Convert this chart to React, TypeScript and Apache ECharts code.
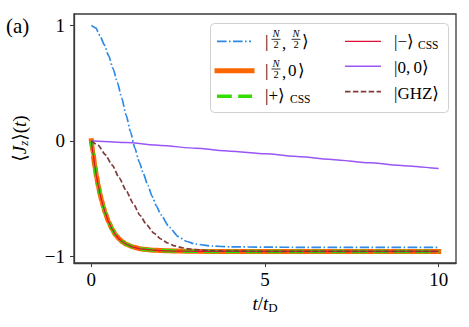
import React, { useEffect, useRef } from "react";
import * as echarts from "echarts";

// ---- data ----
const tDickeTop = [0, 0.125, 0.25, 0.375, 0.5, 0.625, 0.75, 0.875, 1.0, 1.125, 1.25, 1.375, 1.5, 1.625, 1.75, 1.875, 2.0, 2.25, 2.5, 2.75, 3.0, 3.5, 4, 5, 6, 8, 10];
const jzDickeTop = [1.0, 0.978, 0.91, 0.83, 0.735, 0.625, 0.505, 0.37, 0.225, 0.08, -0.06, -0.18, -0.285, -0.385, -0.48, -0.565, -0.64, -0.75, -0.83, -0.872, -0.895, -0.912, -0.918, -0.921, -0.922, -0.923, -0.923];

const tCss = [0, 0.05, 0.1, 0.15, 0.2, 0.25, 0.3, 0.35, 0.4, 0.5, 0.6, 0.7, 0.8, 0.9, 1.0, 1.2, 1.4, 1.6, 1.8, 2.0, 2.5, 3, 4, 6, 8, 10];
const jzDickeHalf = [0, -0.115, -0.22, -0.31, -0.39, -0.46, -0.52, -0.575, -0.625, -0.705, -0.765, -0.815, -0.85, -0.875, -0.895, -0.92, -0.935, -0.942, -0.947, -0.95, -0.955, -0.957, -0.958, -0.958, -0.958, -0.958];
const jzPlusCss = [0, -0.115, -0.22, -0.31, -0.39, -0.46, -0.52, -0.575, -0.625, -0.705, -0.765, -0.815, -0.85, -0.875, -0.895, -0.92, -0.935, -0.942, -0.947, -0.95, -0.955, -0.957, -0.958, -0.958, -0.958, -0.958];
const jzMinusCss = [0, -0.115, -0.22, -0.31, -0.39, -0.46, -0.52, -0.575, -0.625, -0.705, -0.765, -0.815, -0.85, -0.875, -0.895, -0.92, -0.935, -0.942, -0.947, -0.95, -0.955, -0.957, -0.958, -0.958, -0.958, -0.958];

const tSinglet = [0, 1, 2, 3, 4, 5, 6, 7, 8, 9, 10];
const jzSinglet = [0, -0.015, -0.04, -0.065, -0.09, -0.113, -0.138, -0.163, -0.19, -0.215, -0.24];

const tGhz = [0, 0.2, 0.4, 0.6, 0.8, 1.0, 1.2, 1.4, 1.6, 1.8, 2.0, 2.2, 2.4, 2.6, 2.8, 3.0, 3.5, 4, 5, 6, 8, 10];
const jzGhz = [0, -0.04, -0.12, -0.21, -0.32, -0.43, -0.54, -0.645, -0.73, -0.8, -0.85, -0.885, -0.91, -0.925, -0.936, -0.943, -0.952, -0.955, -0.957, -0.958, -0.958, -0.958];

const xTicks = [0, 5, 10];
const yTicks = [-1, 0, 1];

const FONT = "Liberation Serif, DejaVu Serif, serif";
const C_BLUE = "#2e8ae6";
const C_ORANGE = "#ff6600";
const C_GREEN = "#33dd00";
const C_CRIMSON = "#dd1133";
const C_PURPLE = "#9955f5";
const C_BROWN = "#7f3b3b";
const AX = "#3a3a3a";

const zip = (t: number[], v: number[]) => t.map((x, i) => [x, v[i]]);

function txt(text: string, x: number, y: number, size: number, extra: any = {}) {
  return {
    type: "text",
    z: 100,
    style: {
      text,
      x,
      y,
      fill: "#000",
      fontSize: size,
      fontFamily: FONT,
      fontStyle: extra.italic ? "italic" : "normal",
      align: extra.align || "left",
      verticalAlign: "middle",
      textAlign: extra.align || "left",
      textVerticalAlign: "middle",
    },
  };
}

function frac(xc: number, yBar: number) {
  return [
    txt("N", xc, yBar - 5.5, 10.5, { italic: true, align: "center" }),
    {
      type: "line",
      z: 100,
      shape: { x1: xc - 4.5, y1: yBar, x2: xc + 4.5, y2: yBar },
      style: { stroke: "#000", lineWidth: 0.8 },
    },
    txt("2", xc, yBar + 5.5, 10.5, { align: "center" }),
  ];
}

function sample(x1: number, x2: number, y: number, color: string, width: number, dash: number[] | null, cap = "butt") {
  return {
    type: "line",
    z: 100,
    shape: { x1, y1: y, x2, y2: y },
    style: { stroke: color, lineWidth: width, lineDash: dash || undefined, lineCap: cap },
  };
}

export default function App() {
  const ref = useRef<HTMLDivElement>(null);
  useEffect(() => {
    if (!ref.current) return;
    const chart = echarts.init(ref.current, null, { renderer: "svg" });
    const mk = (name: string, data: number[][], color: string, width: number, type: any, cap = "butt") => ({
      name,
      type: "line",
      data,
      showSymbol: false,
      symbol: "none",
      smooth: 0.2,
      smoothMonotone: "x",
      lineStyle: { color, width, type, cap },
      itemStyle: { color },
      silent: true,
    });
    const legendX1 = 217,
      legendX2 = 251;
    const legendX3 = 345,
      legendX4 = 381;
    chart.setOption({
      animation: false,
      backgroundColor: "#fff",
      grid: {
        left: 74,
        top: 14,
        right: 13,
        bottom: 64,
        show: true,
        borderColor: AX,
        borderWidth: 1.3,
        backgroundColor: "transparent",
      },
      xAxis: {
        type: "value",
        min: -0.5,
        max: 10.5,
        splitLine: { show: false },
        axisLine: { show: true, onZero: false, lineStyle: { color: AX, width: 1.3 } },
        axisTick: { show: true, length: 4, inside: false, customValues: xTicks, lineStyle: { color: AX, width: 1 } },
        axisLabel: {
          customValues: xTicks,
          margin: 7,
          fontSize: 19,
          fontFamily: FONT,
          color: "#000",
          formatter: (v: number) => String(v).replace("-", "\u2212"),
        },
        name: "{i|t}{m|/}{i|t}{s|D}",
        nameLocation: "middle",
        nameGap: 29,
        nameTextStyle: {
          rich: {
            m: { fontSize: 19, fontFamily: FONT, color: "#000", lineHeight: 22 },
            i: { fontSize: 19, fontFamily: FONT, fontStyle: "italic", color: "#000", lineHeight: 22 },
            s: { fontSize: 13, fontFamily: FONT, color: "#000", lineHeight: 13, verticalAlign: "bottom" },
          },
        },
      },
      yAxis: {
        type: "value",
        min: -1.058,
        max: 1.098,
        splitLine: { show: false },
        axisLine: { show: true, onZero: false, lineStyle: { color: AX, width: 1.3 } },
        axisTick: { show: true, length: 4, inside: false, customValues: yTicks, lineStyle: { color: AX, width: 1 } },
        axisLabel: {
          customValues: yTicks,
          margin: 9,
          fontSize: 19,
          fontFamily: FONT,
          color: "#000",
          formatter: (v: number) => String(v).replace("-", "\u2212"),
        },
        name: "{m|\u27e8}{i|J}{s|z}{m|\u27e9(}{i|t}{m|)}",
        nameLocation: "middle",
        nameRotate: 90,
        nameGap: 44,
        nameTextStyle: {
          rich: {
            m: { fontSize: 19, fontFamily: FONT, color: "#000", lineHeight: 22 },
            i: { fontSize: 19, fontFamily: FONT, fontStyle: "italic", color: "#000", lineHeight: 22 },
            s: { fontSize: 13, fontFamily: FONT, fontStyle: "italic", color: "#000", lineHeight: 13, verticalAlign: "bottom" },
          },
        },
      },
      series: [
        mk("|N/2,N/2⟩", zip(tDickeTop, jzDickeTop), C_BLUE, 1.7, [9.6, 2.4, 1.6, 2.4]),
        mk("|N/2,0⟩", zip(tCss, jzDickeHalf), C_ORANGE, 5, "solid", "square"),
        mk("|+⟩CSS", zip(tCss, jzPlusCss), C_GREEN, 3.5, [14.8, 6.4]),
        mk("|−⟩CSS", zip(tCss, jzMinusCss), C_CRIMSON, 1.3, "solid"),
        mk("|0,0⟩", zip(tSinglet, jzSinglet), C_PURPLE, 1.5, "solid"),
        mk("|GHZ⟩", zip(tGhz, jzGhz), C_BROWN, 1.7, [5.5, 2.4]),
      ],
      graphic: [
        txt("(a)", 6, 26, 21),
        {
          type: "rect",
          z: 90,
          shape: { x: 210.5, y: 23.5, width: 238, height: 89, r: 4 },
          style: { fill: "rgba(255,255,255,0.85)", stroke: "#d0d0d0", lineWidth: 1 },
        },
        sample(legendX1, legendX2, 41.3, C_BLUE, 1.7, [9.6, 2.4, 1.6, 2.4]),
        sample(legendX1, legendX2 + 1, 70.7, C_ORANGE, 5, null, "square"),
        sample(legendX1, legendX2 + 1, 96.3, C_GREEN, 3.5, [14.8, 6.4]),
        sample(legendX3, legendX4, 41.3, C_CRIMSON, 1.3, null),
        sample(legendX3, legendX4, 66.3, C_PURPLE, 1.5, null),
        sample(legendX3, legendX4, 91.7, C_BROWN, 1.7, [5.5, 2.4]),
        // row 1 col 1: |N/2, N/2>
        txt("|", 265, 41.5, 17),
        ...frac(276, 39.3),
        txt(",", 282, 43, 17),
        ...frac(296, 39.3),
        txt("\u27e9", 302, 41.5, 17),
        // row 2 col 1: |N/2, 0>
        txt("|", 265, 70, 17),
        ...frac(276, 69),
        txt(",", 282, 72, 17),
        txt("0", 288, 70, 17),
        txt("\u27e9", 298, 70, 17),
        // row 3 col 1: |+>CSS
        txt("|+\u27e9", 265, 95, 17),
        txt("CSS", 290, 98.5, 11.5),
        // col 2
        txt("|\u2212\u27e9", 394, 41, 17),
        txt("CSS", 418, 44.5, 11.5),
        txt("|0,\u20090\u27e9", 394, 67.5, 17),
        txt("|GHZ\u27e9", 394, 93, 17),
      ],
    });
    return () => chart.dispose();
  }, []);
  return <div ref={ref} style={{ position: "fixed", left: 0, top: 0, width: 469, height: 327 }} />;
}
